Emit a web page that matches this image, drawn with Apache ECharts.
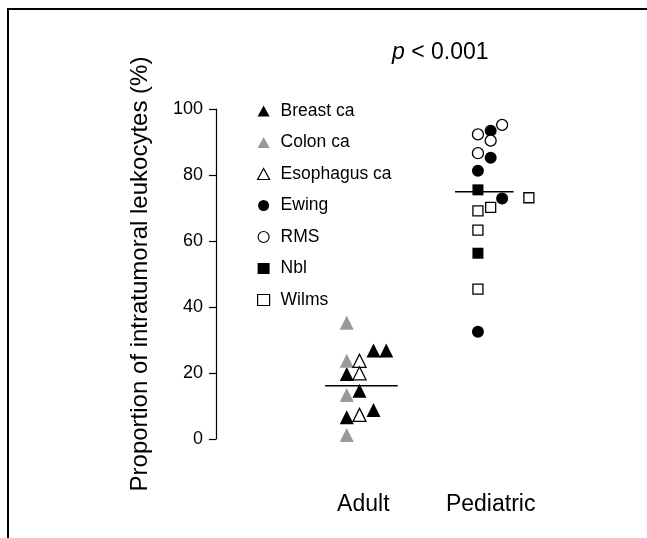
<!DOCTYPE html>
<html>
<head>
<meta charset="utf-8">
<title>Intratumoral leukocytes</title>
<script src="https://cdn.jsdelivr.net/npm/echarts@6/dist/echarts.min.js"></script>
<style>
  html, body { margin: 0; padding: 0; background: #fff; }
  #chart { width: 647px; height: 538px; }
</style>
</head>
<body>
<div id="chart"></div>
<script>
// 类别 (x 轴 1 = Adult, 2 = Pediatric)
const categories = ['Adult', 'Pediatric']
const categoryPos = [1, 2]
const yTicks = [0, 20, 40, 60, 80, 100]

// 每个点: [抖动后的 x 位置, 百分比]
const breastCa = [[1.08, 26.8], [1.18, 26.8], [0.87, 19.7], [0.97, 14.6], [0.87, 6.6], [1.08, 8.8]]
const colonCa = [[0.87, 35.2], [0.87, 23.7], [0.87, 13.3], [0.87, 1.2]]
const esophagusCa = [[0.97, 23.7], [0.97, 19.9], [0.97, 7.3]]
const ewing = [[2.0, 93.4], [2.0, 85.2], [1.9, 81.3], [2.09, 72.9], [1.9, 32.5]]
const rms = [[2.09, 95.2], [1.9, 92.3], [2.0, 90.4], [1.9, 86.6]]
const nbl = [[1.9, 75.5], [1.9, 56.3]]
const wilms = [[2.3, 73.1], [1.9, 69.1], [2.0, 70.2], [1.9, 63.3], [1.9, 45.4]]

// 中位数横线
const adultMedian = [[0.70, 16.1], [1.27, 16.1]]
const pediatricMedian = [[1.72, 74.9], [2.18, 74.9]]

const FONT = 'Liberation Sans, Arial, sans-serif'

const makeSeries = (name, data, symbol, size, fill, border) => ({
  name,
  type: 'scatter',
  data,
  symbol,
  symbolSize: size,
  itemStyle: {
    color: fill,
    borderColor: border,
    borderWidth: border ? 1.3 : 0,
    opacity: 1
  },
  emphasis: { disabled: true },
  z: 3
})

const medianLine = (data) => ({
  type: 'line',
  data,
  symbol: 'none',
  silent: true,
  lineStyle: { color: '#000', width: 1.5 },
  z: 2
})

const chart = echarts.init(document.getElementById('chart'))

const option = {
  animation: false,
  backgroundColor: '#fff',
  textStyle: { fontFamily: FONT },
  title: {
    text: '{i|p} < 0.001',
    left: 387,
    top: 36,
    textStyle: {
      fontFamily: FONT,
      fontSize: 23,
      fontWeight: 'normal',
      color: '#000',
      rich: {
        i: { fontFamily: FONT, fontSize: 23, fontStyle: 'italic', color: '#000' }
      }
    }
  },
  legend: {
    orient: 'vertical',
    left: 257,
    top: 102,
    padding: 0,
    itemWidth: 12,
    itemHeight: 11,
    itemGap: 13.5,
    itemStyle: { borderWidth: 1.2 },
    textStyle: { fontFamily: FONT, fontSize: 17.5, color: '#000', lineHeight: 18, padding: [0, 0, 0, 6] },
    data: ['Breast ca', 'Colon ca', 'Esophagus ca', 'Ewing', 'RMS', 'Nbl', 'Wilms']
  },
  grid: {
    left: 216,
    right: 29,
    top: 109,
    bottom: 99
  },
  xAxis: {
    type: 'value',
    min: -0.157,
    max: 3,
    axisLine: { show: false },
    axisTick: { show: false },
    splitLine: { show: false },
    axisLabel: {
      customValues: categoryPos,
      margin: 54,
      fontSize: 23,
      fontFamily: FONT,
      color: '#000',
      formatter: (v) => categories[categoryPos.indexOf(v)] || ''
    }
  },
  yAxis: {
    type: 'value',
    min: yTicks[0],
    max: yTicks[yTicks.length - 1],
    interval: 20,
    name: 'Proportion of intratumoral leukocytes (%)',
    nameLocation: 'middle',
    nameGap: 64,
    nameMoveOverlap: false,
    nameTextStyle: { fontFamily: FONT, fontSize: 24, color: '#000' },
    axisLine: { show: true, onZero: false, lineStyle: { color: '#000', width: 1.2 } },
    axisTick: { show: true, length: 7, lineStyle: { color: '#000', width: 1.2 } },
    splitLine: { show: false },
    axisLabel: { fontSize: 18, fontFamily: FONT, color: '#000', margin: 13 }
  },
  graphic: [
    {
      type: 'polyline',
      shape: { points: [[8, 538], [8, 9], [647, 9]] },
      style: { stroke: '#000', lineWidth: 2, fill: null },
      silent: true
    }
  ],
  series: [
    medianLine(adultMedian),
    medianLine(pediatricMedian),
    makeSeries('Breast ca', breastCa, 'triangle', 14, '#000'),
    makeSeries('Colon ca', colonCa, 'triangle', 14, '#999'),
    makeSeries('Esophagus ca', esophagusCa, 'triangle', 13, '#fff', '#000'),
    makeSeries('Ewing', ewing, 'circle', 12, '#000'),
    makeSeries('RMS', rms, 'circle', 11, '#fff', '#000'),
    makeSeries('Nbl', nbl, 'rect', 11, '#000'),
    makeSeries('Wilms', wilms, 'rect', 10, '#fff', '#000')
  ]
}

chart.setOption(option)
</script>
</body>
</html>
